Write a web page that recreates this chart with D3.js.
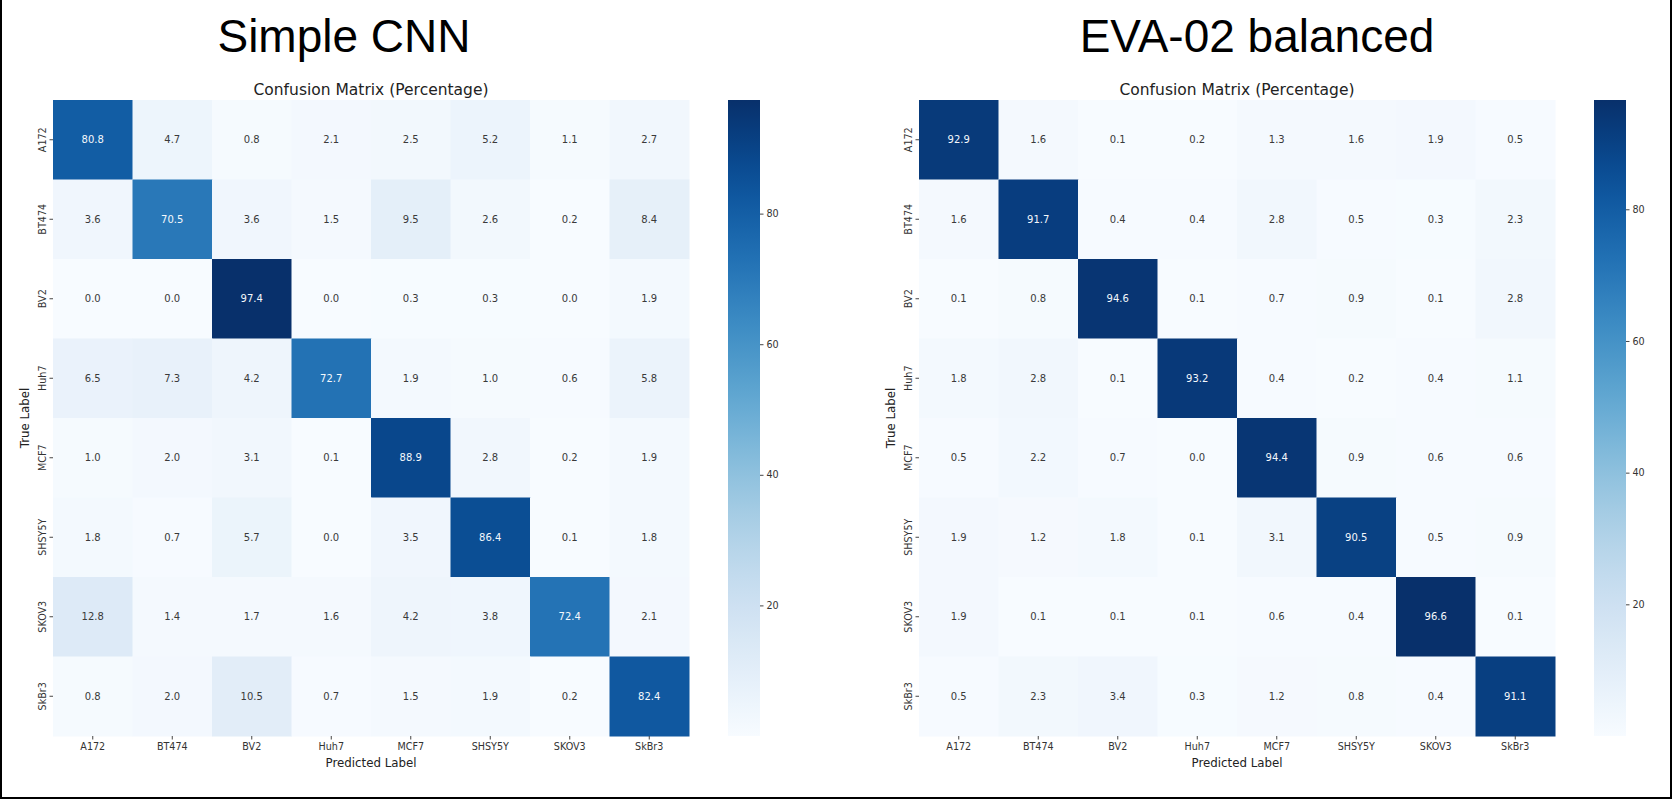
<!DOCTYPE html>
<html>
<head>
<meta charset="utf-8">
<script src="https://cdn.jsdelivr.net/npm/d3@7"></script>
<style>
  body { margin: 0; background: #fff; }
  text { font-family: "DejaVu Sans", sans-serif; }
</style>
</head>
<body>
<svg id="chart"></svg>
<script>
const labels = ["A172", "BT474", "BV2", "Huh7", "MCF7", "SHSY5Y", "SKOV3", "SkBr3"];

// rows = true label, cols = predicted label
const cnnValues = [
    [80.8, 4.7, 0.8, 2.1, 2.5, 5.2, 1.1, 2.7],
    [3.6, 70.5, 3.6, 1.5, 9.5, 2.6, 0.2, 8.4],
    [0.0, 0.0, 97.4, 0.0, 0.3, 0.3, 0.0, 1.9],
    [6.5, 7.3, 4.2, 72.7, 1.9, 1.0, 0.6, 5.8],
    [1.0, 2.0, 3.1, 0.1, 88.9, 2.8, 0.2, 1.9],
    [1.8, 0.7, 5.7, 0.0, 3.5, 86.4, 0.1, 1.8],
    [12.8, 1.4, 1.7, 1.6, 4.2, 3.8, 72.4, 2.1],
    [0.8, 2.0, 10.5, 0.7, 1.5, 1.9, 0.2, 82.4]
];

const evaValues = [
    [92.9, 1.6, 0.1, 0.2, 1.3, 1.6, 1.9, 0.5],
    [1.6, 91.7, 0.4, 0.4, 2.8, 0.5, 0.3, 2.3],
    [0.1, 0.8, 94.6, 0.1, 0.7, 0.9, 0.1, 2.8],
    [1.8, 2.8, 0.1, 93.2, 0.4, 0.2, 0.4, 1.1],
    [0.5, 2.2, 0.7, 0.0, 94.4, 0.9, 0.6, 0.6],
    [1.9, 1.2, 1.8, 0.1, 3.1, 90.5, 0.5, 0.9],
    [1.9, 0.1, 0.1, 0.1, 0.6, 0.4, 96.6, 0.1],
    [0.5, 2.3, 3.4, 0.3, 1.2, 0.8, 0.4, 91.1]
];

const panelTitles = ["Simple CNN", "EVA-02 balanced"];
const subTitle = "Confusion Matrix (Percentage)";
const xLabel = "Predicted Label";
const yLabel = "True Label";
const colorbarTicks = [20, 40, 60, 80];

const svgWidth = 1672,
    svgHeight = 800;

const svg = d3.select("#chart")
    .attr("width", svgWidth)
    .attr("height", svgHeight);

function drawPanel(values, title, left, titleX) {
    const top = 100,
        size = 636;
    const g = svg.append("g");

    // Scales
    const x = d3.scaleBand().domain(labels).range([left, left + size]);
    const y = d3.scaleBand().domain(labels).range([top, top + size]);
    const flat = values.flat();
    const extent = d3.extent(flat);
    const color = d3.scaleSequential(d3.interpolateBlues).domain(extent);

    const cells = [];
    values.forEach((row, i) => row.forEach((v, j) => cells.push({ t: labels[i], p: labels[j], v: v })));

    // Cells
    g.selectAll("rect.cell")
        .data(cells)
        .enter().append("rect")
        .attr("class", "cell")
        .attr("x", d => x(d.p))
        .attr("y", d => y(d.t))
        .attr("width", x.bandwidth() + 0.5)
        .attr("height", y.bandwidth() + 0.5)
        .attr("fill", d => color(d.v));

    // Annotations (white on dark cells, like seaborn)
    g.selectAll("text.annot")
        .data(cells)
        .enter().append("text")
        .attr("class", "annot")
        .attr("x", d => x(d.p) + x.bandwidth() / 2)
        .attr("y", d => y(d.t) + y.bandwidth() / 2)
        .attr("dy", "0.36em")
        .attr("text-anchor", "middle")
        .style("font-size", "10px")
        .attr("fill", d => {
            const c = d3.rgb(color(d.v));
            const lum = (0.2126 * c.r + 0.7152 * c.g + 0.0722 * c.b) / 255;
            return lum < 0.45 ? "#f4f8fc" : "#3a3a3a";
        })
        .text(d => d.v.toFixed(1));

    // Axes
    const xAxis = g.append("g")
        .attr("transform", `translate(0, ${top + size})`)
        .call(d3.axisBottom(x).tickSize(3.5).tickPadding(3.5));
    xAxis.select(".domain").remove();
    xAxis.selectAll("line").attr("stroke", "#444");
    xAxis.selectAll("text")
        .style("font-size", "9.6px")
        .style("font-family", "DejaVu Sans")
        .attr("fill", "#333");

    const yAxis = g.append("g")
        .attr("transform", `translate(${left}, 0)`)
        .call(d3.axisLeft(y).tickSize(3.5));
    yAxis.select(".domain").remove();
    yAxis.selectAll("line").attr("stroke", "#444");
    yAxis.selectAll("text")
        .attr("transform", "rotate(-90)")
        .attr("x", 0)
        .attr("y", -7.5)
        .attr("dy", 0)
        .attr("text-anchor", "middle")
        .style("font-size", "9.6px")
        .style("font-family", "DejaVu Sans")
        .attr("fill", "#333");

    // Axis labels
    g.append("text")
        .attr("x", left + size / 2)
        .attr("y", 767)
        .attr("text-anchor", "middle")
        .style("font-size", "11.8px")
        .attr("fill", "#222")
        .text(xLabel);

    g.append("text")
        .attr("transform", "rotate(-90)")
        .attr("x", -(top + size / 2))
        .attr("y", left - 24)
        .attr("text-anchor", "middle")
        .style("font-size", "11.8px")
        .attr("fill", "#222")
        .text(yLabel);

    // Subplot title
    g.append("text")
        .attr("x", left + size / 2)
        .attr("y", 95)
        .attr("text-anchor", "middle")
        .style("font-size", "15.5px")
        .attr("fill", "#222")
        .text(subTitle);

    // Big slide title
    g.append("text")
        .attr("x", titleX)
        .attr("y", 52)
        .attr("text-anchor", "middle")
        .style("font-family", "'Liberation Sans', Arial, sans-serif")
        .style("font-size", "46px")
        .attr("fill", "#000")
        .text(title);

    // Colorbar
    const cbX = left + size + 39,
        cbW = 32;
    const gradId = "grad" + left;
    const grad = svg.append("defs").append("linearGradient")
        .attr("id", gradId)
        .attr("x1", 0).attr("y1", 1).attr("x2", 0).attr("y2", 0);
    d3.range(0, 1.0001, 0.05).forEach(t => {
        grad.append("stop")
            .attr("offset", t)
            .attr("stop-color", d3.interpolateBlues(t));
    });
    g.append("rect")
        .attr("x", cbX)
        .attr("y", top)
        .attr("width", cbW)
        .attr("height", size)
        .attr("fill", `url(#${gradId})`);

    const cbScale = d3.scaleLinear().domain(extent).range([top + size, top]);
    const cbAxis = g.append("g")
        .attr("transform", `translate(${cbX + cbW}, 0)`)
        .call(d3.axisRight(cbScale).tickValues(colorbarTicks).tickSize(3.5).tickPadding(3));
    cbAxis.select(".domain").remove();
    cbAxis.selectAll("line").attr("stroke", "#444");
    cbAxis.selectAll("text")
        .style("font-size", "9.6px")
        .style("font-family", "DejaVu Sans")
        .attr("fill", "#333");
}

drawPanel(cnnValues, panelTitles[0], 53, 344);
drawPanel(evaValues, panelTitles[1], 919, 1257);

// Frame (left, right, bottom)
svg.append("path")
    .attr("d", `M1,0 V${svgHeight - 2} H${svgWidth - 1} V0`)
    .attr("fill", "none")
    .attr("stroke", "#000")
    .attr("stroke-width", 2);
</script>
</body>
</html>
